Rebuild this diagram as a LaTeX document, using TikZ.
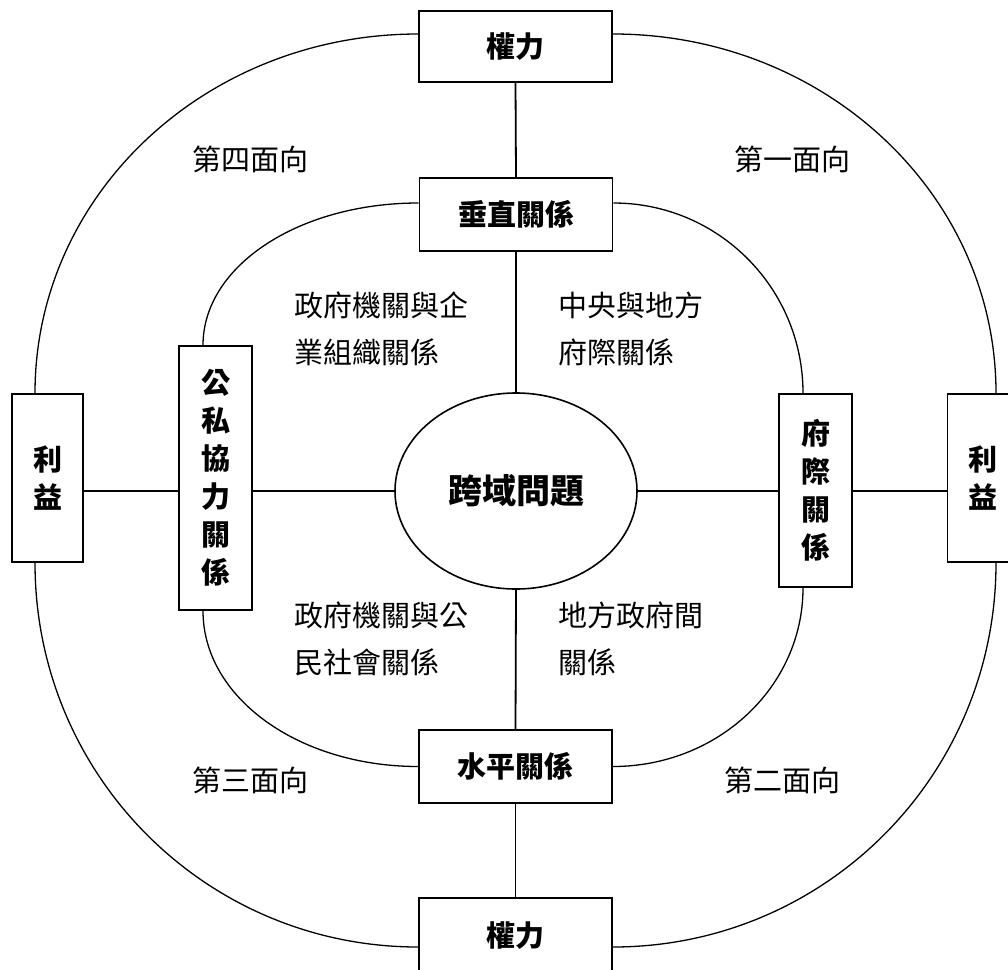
\documentclass[tikz,border=0pt]{standalone}
\usepackage{fontspec}
\newfontfamily\cjk{Noto Sans CJK TC}
\usetikzlibrary{shapes.geometric}
\begin{document}
\begin{tikzpicture}[x=1pt,y=-1pt,
  box/.style={draw, line width=1.8pt, fill=white, inner sep=0pt, align=center,
    font=\cjk\bfseries\fontsize{29}{38}\selectfont},
  hbox/.style={box, minimum width=193pt, minimum height=71pt},
  vbox/.style={box, minimum width=73pt},
  lab/.style={font=\cjk\fontsize{29}{47}\selectfont, inner sep=0pt, align=left, anchor=west},
  conn/.style={line width=1.8pt},
  ring/.style={line width=1.3pt}]
\useasboundingbox (0,0) rectangle (1008,969);
\clip (0,0) rectangle (1008,969);
% nodes
\node[hbox] (ptop) at (515.5,46.5) {權力};
\node[hbox, minimum height=73pt] (vert) at (516,214.5) {垂直關係};
\node[hbox, minimum height=73pt] (horiz) at (515.5,766.5) {水平關係};
\node[hbox, minimum height=76pt] (pbot) at (515.5,936) {權力};
\node[vbox, minimum height=264pt] (gongsi) at (215.5,478) {公\\私\\協\\力\\關\\係};
\node[vbox, minimum height=193pt] (fuji) at (815.5,490.5) {府\\際\\關\\係};
\node[vbox, minimum width=71pt, minimum height=168pt] (lyl) at (47.5,478) {利\\益};
\node[vbox, minimum width=71pt, minimum height=168pt] (lyr) at (983,478) {利\\益};
\node[draw, ellipse, line width=1.6pt, minimum width=242pt, minimum height=196pt, inner sep=0pt,
  font=\cjk\bfseries\fontsize{34}{40}\selectfont] (ell) at (516,491) {跨域問題};
% labels
\node[lab] (f4) at (192,159) {第四面向};
\node[lab] (f1) at (734,159) {第一面向};
\node[lab] (f3) at (192,780) {第三面向};
\node[lab] (f2) at (724,780) {第二面向};
\node[lab] (t1) at (294,328.5) {政府機關與企\\業組織關係};
\node[lab] (t2) at (558,328.5) {中央與地方\\府際關係};
\node[lab] (t3) at (294,638.5) {政府機關與公\\民社會關係};
\node[lab] (t4) at (558,638.5) {地方政府間\\關係};
% connectors
\draw[conn] (ptop.south) -- (vert.north);
\draw[conn] (vert.south) -- (ell.north);
\draw[conn] (ell.south) -- (horiz.north);
\draw[conn] (horiz.south) -- (pbot.north);
\draw[conn] (lyl.east |- ell.west) -- (gongsi.west |- ell.west);
\draw[conn] (gongsi.east |- ell.west) -- (ell.west);
\draw[conn] (ell.east) -- (fuji.west |- ell.east);
\draw[conn] (fuji.east |- ell.east) -- (lyr.west |- ell.east);
% outer ring
\draw[ring] ([yshift=12.5pt]ptop.west) .. controls +(-212,0) and +(0,-199) .. ([xshift=-12.5pt]lyl.north);
\draw[ring] ([yshift=12.5pt]ptop.east) .. controls +(212,0) and +(0,-199) .. ([xshift=13pt]lyr.north);
\draw[ring] ([xshift=-12.5pt]lyl.south) .. controls +(0,213) and +(-212,0) .. ([yshift=-11pt]pbot.west);
\draw[ring] ([xshift=13pt]lyr.south) .. controls +(0,213) and +(212,0) .. ([yshift=-11pt]pbot.east);
% inner ring
\draw[ring] ([yshift=11.5pt]vert.west) .. controls +(-120,0) and +(0,-79) .. ([xshift=-12.5pt]gongsi.north);
\draw[ring] ([yshift=11.5pt]vert.east) .. controls +(105,0) and +(0,-105) .. ([xshift=-12.5pt]fuji.north);
\draw[ring] ([xshift=-12.5pt]gongsi.south) .. controls +(0,87) and +(-119,0) .. (horiz.west);
\draw[ring] ([xshift=-12.5pt]fuji.south) .. controls +(0,99) and +(105,0) .. (horiz.east);
\end{tikzpicture}
\end{document}
